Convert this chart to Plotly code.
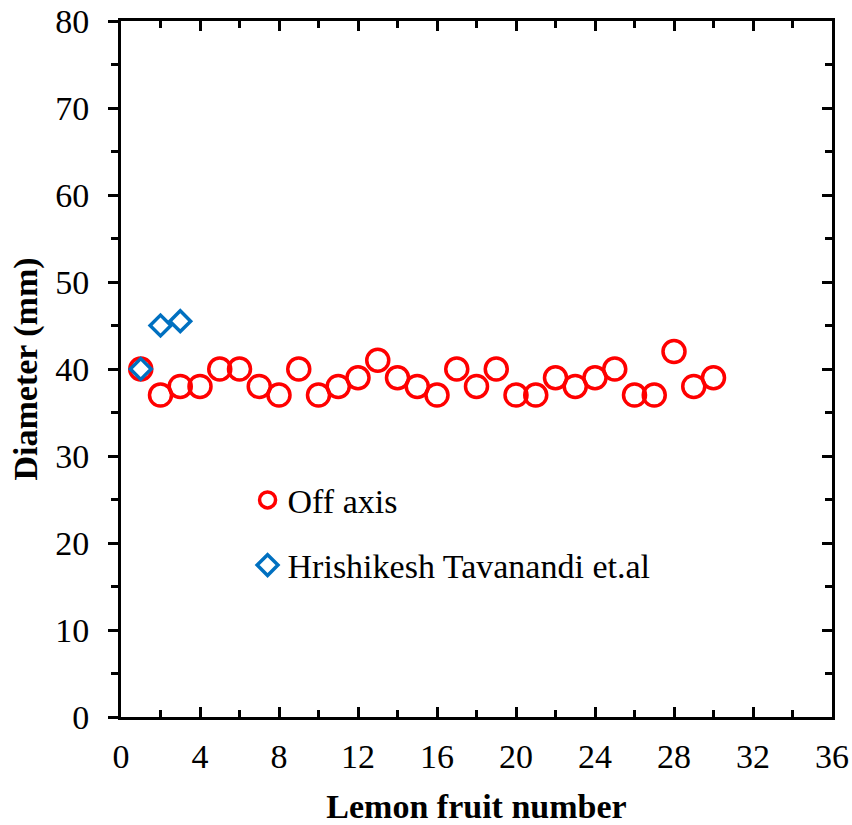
import plotly.graph_objects as go

fruit_no = list(range(1, 31))
off_axis = [40, 37, 38, 38, 40, 40, 38, 37, 40, 37,
            38, 39, 41, 39, 38, 37, 40, 38, 40, 37,
            37, 39, 38, 39, 40, 37, 37, 42, 38, 39]
ref_no = [1, 2, 3]
ref_diam = [40, 45, 45.5]

FONT = "Liberation Serif"
FS = 34
fig = go.Figure()
fig.add_trace(go.Scatter(
    x=fruit_no, y=off_axis, mode="markers", name="Off axis", legendgroup="a",
    marker=dict(symbol="circle-open", size=22, color="#FF0000",
                line=dict(width=3.5, color="#FF0000"))))
fig.add_trace(go.Scatter(
    x=ref_no, y=ref_diam, mode="markers", name="Hrishikesh Tavanandi et.al", legendgroup="b",
    marker=dict(symbol="diamond-open", size=16, color="#0070C0",
                line=dict(width=3.5, color="#0070C0"))))
# invisible trace for right-side axis ticks
fig.add_trace(go.Scatter(x=[0], y=[0], yaxis="y2", mode="markers",
                         marker=dict(opacity=0), showlegend=False, hoverinfo="skip"))

fig.update_layout(
    width=852, height=825,
    margin=dict(l=121, r=20, t=21, b=108),
    plot_bgcolor="white", paper_bgcolor="white",
    font=dict(family=FONT, size=FS, color="black"),
    showlegend=True,
    legend=dict(x=0.178, y=0.353, xanchor="left", yanchor="top",
                font=dict(family=FONT, size=FS), bgcolor="rgba(0,0,0,0)",
                traceorder="grouped", tracegroupgap=18, itemsizing="trace"),
    xaxis=dict(range=[0, 36], dtick=4, tick0=0, showgrid=False, zeroline=False,
               showline=True, linecolor="black", linewidth=3, mirror="ticks",
               ticks="inside", ticklen=10, tickwidth=3, tickcolor="black",
               minor=dict(dtick=2, ticks="inside", ticklen=7, tickwidth=3, tickcolor="black"),
               ticklabelstandoff=7, automargin=False,
               tickfont=dict(family=FONT, size=FS),
               title=dict(text="<b>Lemon fruit number</b>", font=dict(family=FONT, size=FS), standoff=26)),
    yaxis=dict(range=[0, 80], dtick=10, tick0=0, showgrid=False, zeroline=False,
               showline=True, linecolor="black", linewidth=3, mirror=True,
               ticks="outside", ticklen=10, tickwidth=3, tickcolor="black",
               minor=dict(dtick=5, ticks="outside", ticklen=7, tickwidth=3, tickcolor="black"),
               ticklabelstandoff=12, automargin=False,
               tickfont=dict(family=FONT, size=FS),
               title=dict(text="<b>Diameter (mm)</b>", font=dict(family=FONT, size=FS), standoff=8)),
    yaxis2=dict(range=[0, 80], dtick=10, tick0=0, overlaying="y", side="right",
                showgrid=False, zeroline=False, showline=False, showticklabels=False,
                ticks="inside", ticklen=10, tickwidth=3, tickcolor="black", automargin=False,
                minor=dict(dtick=5, ticks="inside", ticklen=7, tickwidth=3, tickcolor="black")),
)
fig.write_html("out.html")
